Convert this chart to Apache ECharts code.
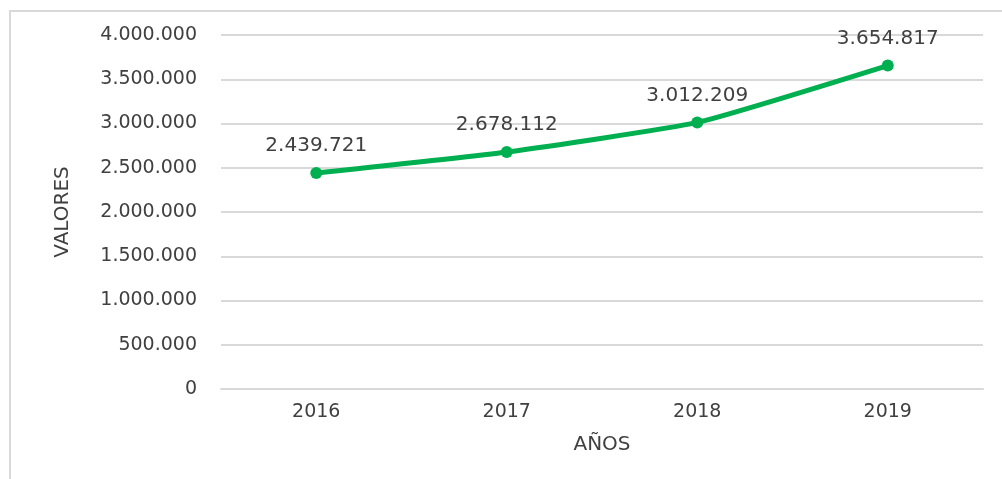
<!DOCTYPE html>
<html>
<head>
<meta charset="utf-8">
<script src="https://cdn.jsdelivr.net/npm/echarts@6/dist/echarts.min.js"></script>
<style>
  html, body { margin: 0; padding: 0; background: #fff; }
  #frame { position: absolute; left: 9px; top: 10px; width: 1000px; height: 480px; border-left: 2px solid #d9d9d9; border-top: 2px solid #d9d9d9; }
  #chart { width: 1002px; height: 479px; }
</style>
</head>
<body>
<div id="frame"></div>
<div id="chart" style="position:absolute;left:0;top:0;"></div>
<script>
// Yearly totals
const years = ['2016', '2017', '2018', '2019'];
const valores = [2439721, 2678112, 3012209, 3654817];

// Spanish style thousands separator: 2.439.721
function fmt(v) {
  return String(Math.round(v)).replace(/\B(?=(\d{3})+(?!\d))/g, '.');
}

const FONT = 'DejaVu Sans';
const chart = echarts.init(document.getElementById('chart'), null, { renderer: 'canvas' });

chart.setOption({
  animation: false,
  grid: { left: 221, right: 19, top: 35, bottom: 90 },
  xAxis: {
    type: 'category',
    data: years,
    name: 'AÑOS',
    nameLocation: 'middle',
    nameGap: 46,
    nameTextStyle: { fontFamily: FONT, fontSize: 20, color: '#404040' },
    axisLine: { lineStyle: { color: '#d9d9d9', width: 2 } },
    axisTick: { show: false },
    axisLabel: { fontFamily: FONT, fontSize: 19, color: '#404040', margin: 14 }
  },
  yAxis: {
    type: 'value',
    min: 0,
    max: 4000000,
    interval: 500000,
    name: 'VALORES',
    nameLocation: 'middle',
    nameGap: 148,
    nameRotate: 90,
    nameTextStyle: { fontFamily: FONT, fontSize: 20, color: '#404040' },
    axisLine: { show: false },
    axisTick: { show: false },
    splitLine: { lineStyle: { color: '#d9d9d9', width: 2 } },
    axisLabel: { fontFamily: FONT, fontSize: 19, color: '#404040', margin: 24, formatter: fmt }
  },
  series: [{
    type: 'line',
    data: valores,
    smooth: 0.15,
    symbol: 'circle',
    symbolSize: 12,
    itemStyle: { color: '#00b050' },
    lineStyle: { color: '#00b050', width: 5 },
    label: {
      show: true,
      position: 'top',
      distance: 11,
      fontFamily: FONT,
      fontSize: 20,
      color: '#404040',
      formatter: p => fmt(p.value)
    }
  }]
});
</script>
</body>
</html>
